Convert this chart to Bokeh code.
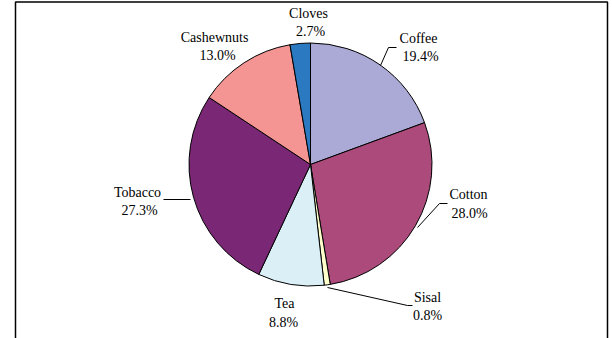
import math
from bokeh.plotting import figure
from bokeh.models import Range1d, ColumnDataSource
from bokeh.core.properties import value
from bokeh.embed import file_html
from bokeh.resources import INLINE

# ---- data (clockwise from 12 o'clock) ----
categories = ["Coffee", "Cotton", "Sisal", "Tea", "Tobacco", "Cashewnuts", "Cloves"]
shares = [19.4, 28.0, 0.8, 8.8, 27.3, 13.0, 2.7]
colors = ["#ABA9D5", "#AB4A7B", "#FFFFCC", "#DAF0F6", "#7A2876", "#F59593", "#2A79C1"]

# ---- layout (pixel coordinates, y measured from top) ----
W, H = 612, 338
CX, CY, R = 310, 164, 121.5
name_pos = {"Coffee": (418, 38), "Cotton": (468, 194), "Sisal": (427, 297),
            "Tea": (284, 303), "Tobacco": (137, 192), "Cashewnuts": (214, 37),
            "Cloves": (308, 13)}
pct_pos = {"Coffee": (420, 56), "Cotton": (469, 213), "Sisal": (427, 315),
           "Tea": (283, 322), "Tobacco": (139, 210), "Cashewnuts": (217, 55),
           "Cloves": (310, 31)}
leaders = [
    [(380, 65), (388, 47), (396, 47)],
    [(417, 227), (439, 203), (447, 203)],
    [(327, 287), (407, 305), (412, 305)],
    [(163, 199), (190, 199)],
]

def fy(y):
    return H - y

p = figure(width=W, height=H, output_backend="svg", toolbar_location=None,
           x_range=Range1d(0, W), y_range=Range1d(0, H),
           x_axis_type=None, y_axis_type=None, min_border=0)
p.grid.visible = False
p.outline_line_color = None
p.background_fill_color = "white"
p.border_fill_color = "white"

# frame
p.quad(left=[15], right=[607], top=[fy(1.5)], bottom=[fy(400)],
       fill_color=None, line_color="black", line_width=1.5)

# wedges
total = sum(shares)
starts, ends = [], []
cum = 0.0
for v in shares:
    a0 = math.pi / 2 - 2 * math.pi * (cum + v) / total
    a1 = math.pi / 2 - 2 * math.pi * cum / total
    starts.append(a0)
    ends.append(a1)
    cum += v
src = ColumnDataSource(dict(start=starts, end=ends, color=colors,
                            x=[CX] * len(shares), y=[fy(CY)] * len(shares)))
p.wedge(x="x", y="y", radius=R, start_angle="start", end_angle="end",
        direction="anticlock", fill_color="color", line_color="black",
        line_width=1, source=src)

# leader lines
for pts in leaders:
    p.line([a for a, b in pts], [fy(b) for a, b in pts], line_color="black", line_width=1)

# labels
lsrc = ColumnDataSource(dict(
    x=[name_pos[c][0] for c in categories],
    y=[fy(name_pos[c][1]) for c in categories],
    t=categories))
psrc = ColumnDataSource(dict(
    x=[pct_pos[c][0] for c in categories],
    y=[fy(pct_pos[c][1]) for c in categories],
    t=[f"{v:.1f}%" for v in shares]))
for s in (lsrc, psrc):
    p.text(x="x", y="y", text="t", source=s, text_font=value("Liberation Serif"),
           text_font_size="14px", text_align="center", text_baseline="middle",
           text_color="black")

open("out.html", "w").write(file_html(p, INLINE))
